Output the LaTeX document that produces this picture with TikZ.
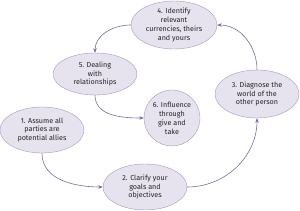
\documentclass[tikz,border=0pt]{standalone}
\usepackage{fontspec}
\setsansfont{Fira Sans}
\usepackage{xcolor}
\usetikzlibrary{shapes,arrows.meta,positioning}

\definecolor{stagefill}{HTML}{E6E2EE}
\definecolor{stageline}{HTML}{A49BBC}
\definecolor{cyclearrow}{HTML}{7B6B9C}

\begin{document}
\begin{tikzpicture}[
    x=1pt, y=1pt,
    stage/.style={ellipse, draw=stageline, fill=stagefill, thin, inner sep=0pt, align=center,
                  font=\sffamily\fontsize{7.2}{8.9}\selectfont, text=black!85},
    arrow/.style={-{Stealth[length=4.5pt, width=3.5pt]}, cyclearrow, semithick}
]
\useasboundingbox (0,0) rectangle (300,211);

% Stages
\node[stage, minimum width=84, minimum height=46] (assume) at (42,81) {1. Assume all\\parties are\\potential allies};
\node[stage, minimum width=84, minimum height=46] (clarify) at (145,24) {2. Clarify your\\goals and\\objectives};
\node[stage, minimum width=84, minimum height=48] (diagnose) at (257,117) {3. Diagnose the\\world of the\\other person};
\node[stage, minimum width=86, minimum height=48] (identify) at (174,186) {4. Identify\\relevant\\currencies, theirs\\and yours};
\node[stage, minimum width=84, minimum height=42] (dealing) at (95,137) {5. Dealing\\with\\relationships};
\node[stage, minimum width=56, minimum height=56] (influence) at (172,93) {6. Influence\\through\\give and\\take};

% Arrows
\draw[arrow] (assume.south) to[out=270, in=180] (clarify.west);
\draw[arrow] (clarify.east) to[out=0, in=270] (diagnose.south);
\draw[arrow] (diagnose.north) to[out=90, in=0] (identify.east);
\draw[arrow] (identify.west) to[out=180, in=90] (dealing.north);
\draw[arrow] (dealing.south) to[out=270, in=180] (influence.west);

\end{tikzpicture}
\end{document}
